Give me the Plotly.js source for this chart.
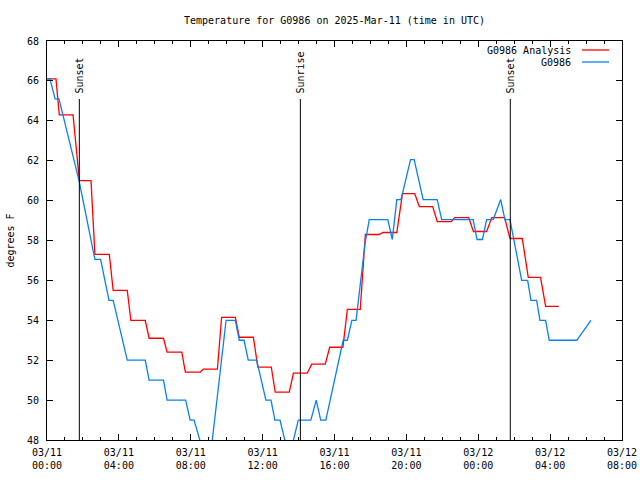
<!DOCTYPE html>
<html>
<head>
<meta charset="utf-8">
<script src="https://cdn.plot.ly/plotly-3.0.1.min.js"></script>
<style>html,body{margin:0;padding:0;background:#fff;}#chart{width:640px;height:480px;}</style>
</head>
<body>
<div id="chart"></div>
<script>
// Analysis (red) series
const analysisTimes = [
 '2025-03-11 00:00','2025-03-11 00:30','2025-03-11 00:41','2025-03-11 01:27','2025-03-11 01:48','2025-03-11 02:27',
 '2025-03-11 02:40','2025-03-11 03:28','2025-03-11 03:41','2025-03-11 04:28','2025-03-11 04:40','2025-03-11 05:28',
 '2025-03-11 05:41','2025-03-11 06:29','2025-03-11 06:41','2025-03-11 07:30','2025-03-11 07:42','2025-03-11 08:31',
 '2025-03-11 08:42','2025-03-11 09:29','2025-03-11 09:43','2025-03-11 10:29','2025-03-11 10:42','2025-03-11 11:29',
 '2025-03-11 11:44','2025-03-11 12:29','2025-03-11 12:42','2025-03-11 13:29','2025-03-11 13:43','2025-03-11 14:29',
 '2025-03-11 14:44','2025-03-11 15:29','2025-03-11 15:44','2025-03-11 16:28','2025-03-11 16:43','2025-03-11 17:26',
 '2025-03-11 17:43','2025-03-11 18:30','2025-03-11 18:42','2025-03-11 19:28','2025-03-11 19:47','2025-03-11 20:28',
 '2025-03-11 20:43','2025-03-11 21:28','2025-03-11 21:43','2025-03-11 22:30','2025-03-11 22:41','2025-03-11 23:28',
 '2025-03-11 23:44','2025-03-12 00:28','2025-03-12 00:45','2025-03-12 01:28','2025-03-12 01:46','2025-03-12 02:27',
 '2025-03-12 02:47','2025-03-12 03:28','2025-03-12 03:45','2025-03-12 04:29'
];
const analysisTemps = [
 66.1,66.1,64.3,64.3,61.0,61.0,
 57.3,57.3,55.5,55.5,54.0,54.0,
 53.1,53.1,52.4,52.4,51.4,51.4,
 51.55,51.55,54.15,54.15,53.15,53.15,
 51.65,51.65,50.4,50.4,51.35,51.35,
 51.8,51.8,52.65,52.65,54.55,54.55,
 58.3,58.3,58.4,58.4,60.35,60.35,
 59.7,59.7,58.95,58.95,59.15,59.15,
 58.45,58.45,59.15,59.15,58.1,58.1,
 56.15,56.15,54.7,54.7
];
// Observed (blue) series
const obsTimes = [
 '2025-03-11 00:00','2025-03-11 00:10','2025-03-11 00:27','2025-03-11 00:40','2025-03-11 01:47','2025-03-11 02:20',
 '2025-03-11 02:40','2025-03-11 02:59','2025-03-11 03:27','2025-03-11 03:41','2025-03-11 04:13','2025-03-11 04:28',
 '2025-03-11 05:28','2025-03-11 05:41','2025-03-11 06:29','2025-03-11 06:41','2025-03-11 07:43','2025-03-11 07:58',
 '2025-03-11 08:11','2025-03-11 08:29','2025-03-11 08:42','2025-03-11 09:12','2025-03-11 09:58','2025-03-11 10:29',
 '2025-03-11 10:42','2025-03-11 10:58','2025-03-11 11:12','2025-03-11 11:40','2025-03-11 12:11','2025-03-11 12:28',
 '2025-03-11 12:41','2025-03-11 12:58','2025-03-11 13:13','2025-03-11 13:27','2025-03-11 13:43','2025-03-11 13:59',
 '2025-03-11 14:41','2025-03-11 14:59','2025-03-11 15:14','2025-03-11 15:31','2025-03-11 16:29','2025-03-11 16:43',
 '2025-03-11 16:58','2025-03-11 17:12','2025-03-11 17:42','2025-03-11 17:56','2025-03-11 18:58','2025-03-11 19:13',
 '2025-03-11 19:28','2025-03-11 19:42','2025-03-11 20:14','2025-03-11 20:26','2025-03-11 20:56','2025-03-11 21:43',
 '2025-03-11 21:58','2025-03-11 23:43','2025-03-11 23:56','2025-03-12 00:14','2025-03-12 00:28','2025-03-12 00:50',
 '2025-03-12 01:15','2025-03-12 01:29','2025-03-12 01:46','2025-03-12 02:25','2025-03-12 02:45','2025-03-12 02:56',
 '2025-03-12 03:15','2025-03-12 03:26','2025-03-12 03:45','2025-03-12 03:57','2025-03-12 05:29','2025-03-12 06:16'
];
const obsTemps = [
 66.1,66.1,65.1,65.1,61.0,58.5,
 57.05,57.05,55.0,55.0,53.0,52.0,
 52.0,51.0,51.0,50.0,50.0,49.0,
 49.0,48.0,47.4,48.0,54.0,54.0,
 53.0,53.0,52.0,52.0,50.0,50.0,
 49.0,49.0,48.0,47.2,48.0,49.0,
 49.0,50.0,49.0,49.0,53.0,53.0,
 54.0,54.0,57.85,59.05,59.05,58.05,
 60.05,60.05,62.05,62.05,60.05,60.05,
 59.05,59.05,58.05,58.05,59.05,59.05,
 60.05,59.05,59.05,56.0,56.0,55.0,
 55.0,54.0,54.0,53.0,53.0,54.0
];
const sunTimes = ['2025-03-11 01:48','2025-03-11 14:06','2025-03-12 01:47'];
const sunLabels = ['Sunset','Sunrise','Sunset'];
const seriesNames = ['G0986 Analysis','G0986'];
const seriesColors = ['#ff0000','#0a80f0'];

const FONT = {family:'DejaVu Sans Mono, monospace', size:10, color:'#000'};

const traces = [
 {x: analysisTimes, y: analysisTemps, type:'scatter', mode:'lines', name: seriesNames[0],
  line:{color: seriesColors[0], width:1.3}},
 {x: obsTimes, y: obsTemps, type:'scatter', mode:'lines', name: seriesNames[1],
  line:{color: seriesColors[1], width:1.3}}
];

const lineTop = (440-99)/399;
const shapes = [];
const annotations = [];
sunTimes.forEach((t,i)=>{
  shapes.push({type:'line', xref:'x', yref:'paper', x0:t, x1:t, y0:0, y1:lineTop,
    line:{color:'#000', width:1}});
  annotations.push({xref:'x', yref:'paper', x:t, y:lineTop+0.012, text:sunLabels[i],
    textangle:-90, showarrow:false, xanchor:'center', yanchor:'bottom', borderpad:0, font:FONT});
});
// legend drawn as annotations + line samples
const legY = [(440-50)/399, (440-62)/399];
seriesNames.forEach((n,i)=>{
  annotations.push({xref:'paper', yref:'paper', x:(572-47)/575, y:legY[i], text:n, showarrow:false,
    xanchor:'right', yanchor:'middle', borderpad:0, font:FONT});
  shapes.push({type:'line', xref:'paper', yref:'paper', x0:(582-47)/575, x1:(609-47)/575,
    y0:legY[i], y1:legY[i], line:{color:seriesColors[i], width:1.3}});
});

const layout = {
  width:640, height:480,
  margin:{l:47, r:18, t:41, b:40, pad:0},
  paper_bgcolor:'#fff', plot_bgcolor:'#fff',
  font: FONT,
  showlegend:false,
  title:{text:'Temperature for G0986 on 2025-Mar-11 (time in UTC)', font:FONT,
    x:0.5, xref:'paper', y:1-20/480, yref:'container', xanchor:'center', yanchor:'middle'},
  xaxis:{type:'date', range:['2025-03-11 00:00','2025-03-12 08:00'],
    tick0:'2025-03-11 00:00', dtick:14400000, tickformat:'%m/%d<br>%H:%M',
    ticks:'inside', ticklen:6, tickcolor:'#000', mirror:'ticks', showline:true, linecolor:'#000', linewidth:1,
    showgrid:false, zeroline:false, tickfont:FONT, ticklabelstandoff:3,
    minor:{dtick:3600000, ticks:'inside', ticklen:3, tickcolor:'#000', showgrid:false}},
  yaxis:{range:[48,68], dtick:2, tick0:48, ticks:'inside', ticklen:6, tickcolor:'#000',
    mirror:'ticks', showline:true, linecolor:'#000', linewidth:1, showgrid:false, zeroline:false,
    tickfont:FONT, ticklabelstandoff:5, title:{text:'degrees F', font:FONT, standoff:10}},
  shapes: shapes,
  annotations: annotations
};

Plotly.newPlot('chart', traces, layout, {staticPlot:true, displayModeBar:false});
</script>
</body>
</html>
